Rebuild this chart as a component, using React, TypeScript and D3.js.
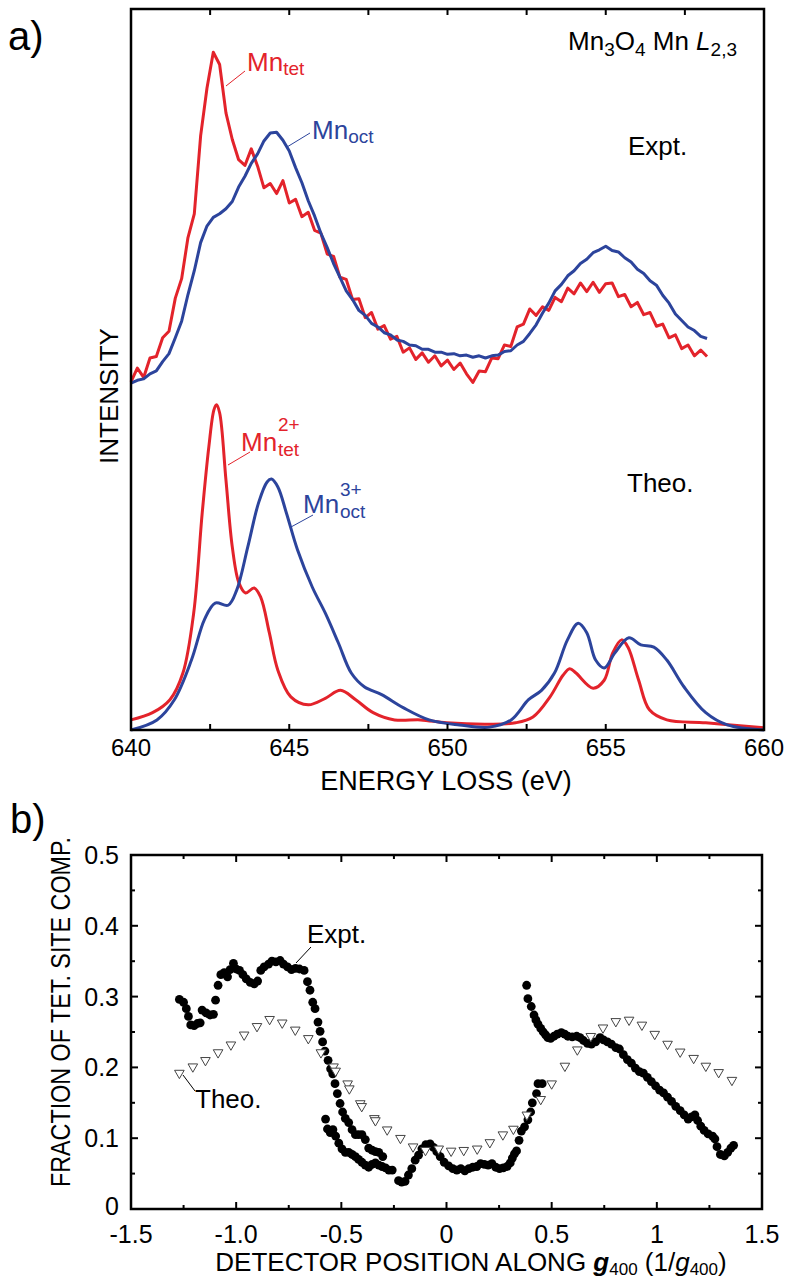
import React from "react";
import * as d3 from "d3";

// ---- panel a: Mn L2,3 spectra ----
// experimental spectra sampled every 0.2 eV from 640 eV
const exptEnergy = d3.range(92).map((i) => 640 + i * 0.2);
const exptTet = [
  48.3, 50.2, 48.9, 51.6, 51.8, 54.4, 55.3, 59.9, 62.6, 68.3,
  71.6, 82.4, 89.0, 94.0, 92.3, 85.6, 81.9, 79.1, 78.3, 80.6,
  78.2, 75.2, 75.8, 74.4, 76.2, 73.1, 73.6, 71.2, 71.8, 69.3,
  68.9, 66.0, 65.7, 62.8, 62.5, 59.7, 59.8, 57.2, 57.9, 55.6,
  56.1, 54.2, 54.6, 52.4, 53.0, 51.4, 52.3, 51.0, 51.9, 50.5,
  51.3, 50.0, 50.9, 49.4, 48.2, 49.8, 49.7, 51.6, 51.5, 53.4,
  53.2, 55.9, 56.3, 58.4, 57.5, 58.7, 58.2, 60.0, 59.4, 61.3,
  60.5, 62.0, 60.8, 62.1, 60.7, 61.9, 62.0, 60.1, 60.4, 58.7,
  59.3, 57.6, 57.9, 56.0, 56.3, 54.4, 54.8, 52.9, 53.4, 51.9,
  52.7, 51.8,
];
const exptOct = [
  48.1, 48.5, 48.7, 49.4, 49.8, 51.1, 52.2, 54.4, 56.7, 60.4,
  63.7, 67.6, 69.9, 71.1, 71.6, 72.3, 73.3, 75.3, 76.8, 78.6,
  79.9, 81.7, 82.8, 82.9, 81.8, 80.3, 78.0, 75.9, 73.4, 71.3,
  68.9, 66.9, 64.7, 62.8, 60.9, 59.7, 58.2, 57.5, 56.4, 55.9,
  55.1, 54.8, 54.1, 53.9, 53.4, 53.3, 52.8, 52.8, 52.4, 52.4,
  52.1, 52.2, 51.9, 52.0, 51.7, 51.9, 51.6, 51.9, 52.0, 52.5,
  52.6, 53.4, 53.9, 55.0, 56.2, 57.8, 59.2, 60.9, 61.8, 63.0,
  63.7, 64.7, 65.3, 66.2, 66.6, 67.1, 66.5, 66.3, 65.5, 64.9,
  63.9, 63.3, 62.3, 61.7, 60.3, 59.2, 57.7, 56.8, 55.9, 55.4,
  54.6, 54.3,
];

const theoTetE = [
  640, 640.68, 641.23, 641.64, 641.98, 642.25, 642.46, 642.62, 642.7, 642.8,
  643.0, 643.2, 643.41, 643.62, 643.89, 644.1, 644.37, 644.64, 645.05, 645.6,
  646.14, 646.62, 647.1, 647.65, 648.33, 649.15, 649.97, 651.33, 652.15, 652.7,
  653.24, 653.65, 653.86, 654.06, 654.6, 654.95, 655.22, 655.5, 655.7, 656.04,
  656.38, 656.93, 658.16, 660,
];
const theoTetI = [
  1.4, 2.4, 4.2, 7.9, 16.2, 30.1, 39.3, 44.4, 45.1, 44.0,
  34.7, 25.4, 20.4, 19.0, 19.7, 18.4, 13.5, 8.3, 4.6, 3.5,
  4.4, 5.5, 4.2, 2.4, 1.4, 1.4, 1.0, 0.8, 1.0, 1.8,
  4.6, 7.6, 8.5, 7.9, 5.8, 6.9, 10.7, 12.5, 11.5, 6.9,
  2.8, 1.4, 1.0, 0.3,
];
const theoOctE = [
  640, 640.82, 641.37, 641.91, 642.32, 642.66, 643.07, 643.34, 643.69, 644.03,
  644.3, 644.44, 644.64, 644.91, 645.26, 645.73, 646.14, 646.55, 646.96, 647.37,
  647.92, 648.6, 649.42, 650.38, 651.33, 652.01, 652.56, 652.97, 653.38, 653.79,
  654.13, 654.4, 654.68, 654.95, 655.29, 655.73, 656.11, 656.52, 656.93, 657.47,
  658.16, 658.84, 660,
];
const theoOctI = [
  0, 1.4, 4.2, 9.7, 15.3, 17.6, 17.3, 19.4, 25.4, 31.5,
  34.4, 34.8, 33.7, 30.1, 25.0, 19.8, 16.2, 12.1, 7.9, 6.0,
  4.9, 3.1, 1.4, 0.7, 0.4, 1.4, 4.2, 5.5, 7.9, 12.5,
  14.8, 13.5, 9.7, 8.6, 10.7, 12.8, 11.8, 11.5, 9.7, 6.0,
  2.4, 0.7, 0,
];

const energyTickLabels = [640, 645, 650, 655, 660];

// ---- panel b: fraction of tetrahedral site component ----
const theoPos = [
  -1.27, -1.206, -1.146, -1.086, -1.025, -0.962, -0.901, -0.841, -0.781, -0.719,
  -0.657, -0.597, -0.537, -0.527, -0.47, -0.462, -0.41, -0.403, -0.343, -0.338,
  -0.282, -0.219, -0.159, -0.1, -0.037, 0.022, 0.082, 0.146, 0.206, 0.268,
  0.318, 0.382, 0.448, 0.5, 0.563, 0.622, 0.686, 0.744, 0.805, 0.868,
  0.929, 0.99, 1.051, 1.111, 1.175, 1.233, 1.294, 1.357,
];
const theoFrac = [
  0.192, 0.201, 0.21, 0.221, 0.232, 0.246, 0.258, 0.268, 0.263, 0.253,
  0.241, 0.221, 0.201, 0.195, 0.177, 0.17, 0.149, 0.145, 0.128, 0.125,
  0.112, 0.1, 0.088, 0.083, 0.085, 0.082, 0.083, 0.085, 0.094, 0.105,
  0.113, 0.133, 0.155, 0.177, 0.202, 0.225, 0.244, 0.256, 0.265, 0.267,
  0.26, 0.247, 0.233, 0.222, 0.213, 0.202, 0.193, 0.182,
];

const exptPos = [
  -1.27, -1.25, -1.237, -1.227, -1.216, -1.2, -1.184, -1.171, -1.162, -1.143,
  -1.124, -1.108, -1.098, -1.086, -1.073, -1.057, -1.041, -1.029, -1.013, -1.0,
  -0.984, -0.968, -0.952, -0.933, -0.914, -0.898, -0.883, -0.867, -0.846, -0.83,
  -0.811, -0.791, -0.775, -0.756, -0.737, -0.718, -0.699, -0.677, -0.661, -0.649,
  -0.636, -0.625, -0.611, -0.601, -0.589, -0.578, -0.563, -0.551, -0.541, -0.53,
  -0.519, -0.506, -0.494, -0.481, -0.465, -0.449, -0.433, -0.418, -0.402, -0.386,
  -0.37, -0.354, -0.338, -0.322, -0.303,
  -0.575, -0.566, -0.553, -0.54, -0.527, -0.512, -0.497, -0.481, -0.465, -0.449,
  -0.433, -0.418, -0.402, -0.386, -0.37, -0.354, -0.338, -0.322, -0.306, -0.29,
  -0.274, -0.258,
  -0.228, -0.213, -0.197, -0.181, -0.165, -0.149, -0.133, -0.117, -0.098, -0.078,
  -0.062, -0.046, -0.03, -0.011, 0.01, 0.03, 0.049, 0.068, 0.087, 0.106,
  0.125, 0.144, 0.162, 0.18, 0.198, 0.216, 0.234, 0.252, 0.27, 0.288,
  0.303, 0.313, 0.323, 0.333, 0.345, 0.356, 0.371, 0.387, 0.4, 0.408,
  0.428, 0.435, 0.455,
  0.381, 0.387, 0.403, 0.416, 0.425, 0.435, 0.448, 0.46, 0.471, 0.482,
  0.495, 0.511, 0.527, 0.546, 0.562, 0.577, 0.598, 0.619, 0.635, 0.651,
  0.67, 0.689, 0.709, 0.73, 0.746, 0.765, 0.784, 0.805, 0.822, 0.841,
  0.86, 0.879, 0.898, 0.917, 0.936, 0.955, 0.974, 0.994, 1.013, 1.032,
  1.051, 1.07, 1.09, 1.111, 1.13, 1.149, 1.165, 1.181, 1.194, 1.209,
  1.225, 1.244, 1.265, 1.276, 1.286, 1.302, 1.321, 1.337, 1.352, 1.365,
];
const exptFrac = [
  0.296, 0.292, 0.283, 0.272, 0.26, 0.259, 0.262, 0.263, 0.281, 0.277,
  0.274, 0.275, 0.295, 0.316, 0.331, 0.334, 0.328, 0.338, 0.347, 0.339,
  0.337, 0.331, 0.325, 0.32, 0.318, 0.322, 0.337, 0.342, 0.346, 0.35,
  0.349, 0.351, 0.346, 0.342, 0.338, 0.34, 0.339, 0.337, 0.321, 0.309,
  0.292, 0.283, 0.264, 0.251, 0.236, 0.223, 0.21, 0.198, 0.191, 0.177,
  0.163, 0.149, 0.137, 0.128, 0.122, 0.112, 0.105, 0.105, 0.105, 0.098,
  0.086, 0.083, 0.081, 0.08, 0.074,
  0.127, 0.113, 0.108, 0.112, 0.103, 0.093, 0.085, 0.08, 0.08, 0.077,
  0.074, 0.07, 0.066, 0.062, 0.059, 0.063, 0.065, 0.062, 0.06, 0.058,
  0.055, 0.055,
  0.04, 0.038, 0.039, 0.048, 0.057, 0.069, 0.076, 0.085, 0.091, 0.092,
  0.087, 0.081, 0.074, 0.066, 0.061, 0.057, 0.055, 0.057, 0.054, 0.057,
  0.059, 0.06, 0.064, 0.063, 0.062, 0.064, 0.059, 0.057, 0.058, 0.06,
  0.065, 0.072, 0.078, 0.082, 0.097, 0.11, 0.116, 0.126, 0.137, 0.15,
  0.163, 0.177, 0.177,
  0.316, 0.297, 0.286, 0.274, 0.267, 0.261, 0.255, 0.25, 0.246, 0.242,
  0.241, 0.244, 0.247, 0.249, 0.247, 0.244, 0.243, 0.244, 0.242, 0.238,
  0.234, 0.233, 0.236, 0.242, 0.239, 0.236, 0.233, 0.228, 0.226, 0.218,
  0.211, 0.206, 0.199, 0.194, 0.192, 0.186, 0.18, 0.174, 0.168, 0.164,
  0.158, 0.152, 0.145, 0.139, 0.133, 0.127, 0.13, 0.133, 0.125, 0.117,
  0.111, 0.106, 0.103, 0.099, 0.088, 0.077, 0.075, 0.08, 0.086, 0.09,
];

const posTicks = [-1.5, -1, -0.5, 0, 0.5, 1, 1.5];
const posTickLabels = ["-1.5", "-1.0", "-0.5", "0", "0.5", "1", "1.5"];
const fracTicks = [0, 0.1, 0.2, 0.3, 0.4, 0.5];
const fracTickLabels = ["0", "0.1", "0.2", "0.3", "0.4", "0.5"];

const RED = "#e3232b";
const BLUE = "#2c449c";
const FONT = "'Liberation Sans', Arial, Helvetica, sans-serif";

function App() {
  // panel a scales
  const xa = d3.scaleLinear().domain([640, 660]).range([131, 764]);
  const ya = d3.scaleLinear().domain([0, 100]).range([730, 9]);
  // panel b scales
  const xb = d3.scaleLinear().domain([-1.5, 1.5]).range([131, 762]);
  const yb = d3.scaleLinear().domain([0, 0.5]).range([1209, 855]);

  const rough = d3
    .line<number>()
    .x((d, i) => xa(exptEnergy[i]))
    .y((d) => ya(d));
  const smooth = (es: number[]) =>
    d3
      .line<number>()
      .x((d, i) => xa(es[i]))
      .y((d) => ya(d))
      .curve(d3.curveCatmullRom.alpha(0.5));

  const aTicks = d3.range(640, 660.01, 2.5);
  const bxTicks = d3.range(-1.5, 1.501, 0.25);
  const byTicks = d3.range(0, 0.501, 0.05);
  const tri = d3.symbol().type(d3.symbolTriangle).size(40)();

  return (
    <svg
      width={785}
      height={1284}
      style={{ position: "absolute", left: 0, top: 0, background: "#fff" }}
      fontFamily={FONT}
    >
      {/* ===== panel a ===== */}
      <text x={8} y={50} fontSize={40}>a)</text>

      <path d={smooth(theoTetE)(theoTetI) || ""} fill="none" stroke={RED} strokeWidth={3} />
      <path d={smooth(theoOctE)(theoOctI) || ""} fill="none" stroke={BLUE} strokeWidth={3} />
      <path d={rough(exptTet) || ""} fill="none" stroke={RED} strokeWidth={3} strokeLinejoin="round" />
      <path d={rough(exptOct) || ""} fill="none" stroke={BLUE} strokeWidth={3} strokeLinejoin="round" />

      <rect x={131} y={9} width={764 - 131} height={730 - 9} fill="none" stroke="#000" strokeWidth={2.5} />
      {aTicks.map((t) => (
        <g key={"at" + t}>
          <line x1={xa(t)} x2={xa(t)} y1={730} y2={724} stroke="#000" strokeWidth={2} />
          <line x1={xa(t)} x2={xa(t)} y1={9} y2={15} stroke="#000" strokeWidth={2} />
        </g>
      ))}
      {energyTickLabels.map((t) => (
        <text key={"al" + t} x={xa(t)} y={756} fontSize={24} textAnchor="middle">{t}</text>
      ))}
      <text x={446} y={790} fontSize={27} textAnchor="middle">ENERGY LOSS (eV)</text>
      <text transform="translate(118,396) rotate(-90)" fontSize={26} textAnchor="middle">INTENSITY</text>

      <text x={737} y={50} fontSize={26} textAnchor="end">
        Mn<tspan fontSize={19} dy={6}>3</tspan>
        <tspan dy={-6}>O</tspan>
        <tspan fontSize={19} dy={6}>4</tspan>
        <tspan dy={-6}> Mn </tspan>
        <tspan fontStyle="italic">L</tspan>
        <tspan fontSize={19} dy={6}>2,3</tspan>
      </text>
      <text x={628} y={155} fontSize={26}>Expt.</text>
      <text x={627} y={492} fontSize={26}>Theo.</text>

      <line x1={226} y1={86} x2={245} y2={71} stroke={RED} strokeWidth={1} />
      <text x={247} y={71} fontSize={26} fill={RED}>
        Mn<tspan fontSize={19} dy={4}>tet</tspan>
      </text>
      <line x1={287} y1={147} x2={310} y2={133} stroke={BLUE} strokeWidth={1} />
      <text x={312} y={139} fontSize={26} fill={BLUE}>
        Mn<tspan fontSize={19} dy={4}>oct</tspan>
      </text>

      <line x1={228} y1={465} x2={250} y2={452} stroke={RED} strokeWidth={1} />
      <text x={241} y={451} fontSize={26} fill={RED}>Mn</text>
      <text x={278} y={431} fontSize={19} fill={RED}>2+</text>
      <text x={278} y={456} fontSize={19} fill={RED}>tet</text>

      <line x1={291} y1={527} x2={313} y2={515} stroke={BLUE} strokeWidth={1} />
      <text x={303} y={513} fontSize={26} fill={BLUE}>Mn</text>
      <text x={340} y={496} fontSize={19} fill={BLUE}>3+</text>
      <text x={340} y={518} fontSize={19} fill={BLUE}>oct</text>

      {/* ===== panel b ===== */}
      <text x={10} y={833} fontSize={40}>b)</text>

      {exptPos.map((p, i) => (
        <circle key={"e" + i} cx={xb(p)} cy={yb(exptFrac[i])} r={4.4} fill="#000" />
      ))}
      {theoPos.map((p, i) => (
        <path
          key={"t" + i}
          d={tri || ""}
          transform={`translate(${xb(p)},${yb(theoFrac[i])}) rotate(180)`}
          fill="#fff"
          stroke="#444"
          strokeWidth={1}
        />
      ))}

      <rect x={131} y={855} width={762 - 131} height={1209 - 855} fill="none" stroke="#000" strokeWidth={2.5} />
      {bxTicks.map((t, i) => {
        const len = i % 2 === 0 ? 7 : 4;
        return (
          <g key={"bx" + i}>
            <line x1={xb(t)} x2={xb(t)} y1={1209} y2={1209 - len} stroke="#000" strokeWidth={2} />
            <line x1={xb(t)} x2={xb(t)} y1={855} y2={855 + len} stroke="#000" strokeWidth={2} />
          </g>
        );
      })}
      {byTicks.map((t, i) => {
        const len = i % 2 === 0 ? 7 : 4;
        return (
          <g key={"by" + i}>
            <line x1={131} x2={131 + len} y1={yb(t)} y2={yb(t)} stroke="#000" strokeWidth={2} />
            <line x1={762} x2={762 - len} y1={yb(t)} y2={yb(t)} stroke="#000" strokeWidth={2} />
          </g>
        );
      })}
      {fracTicks.map((t, i) => (
        <text key={"fy" + i} x={119} y={yb(t) + (i === 0 ? 6 : 9)} fontSize={25} textAnchor="end">{fracTickLabels[i]}</text>
      ))}
      {posTicks.map((t, i) => (
        <text key={"px" + i} x={xb(t)} y={1243} fontSize={25} textAnchor="middle">{posTickLabels[i]}</text>
      ))}
      <text x={471} y={1271} fontSize={26} textAnchor="middle">
        DETECTOR POSITION ALONG{" "}
        <tspan fontWeight="bold" fontStyle="italic">g</tspan>
        <tspan fontSize={17} dy={4}>400</tspan>
        <tspan dy={-4}> (1/</tspan>
        <tspan fontStyle="italic">g</tspan>
        <tspan fontSize={17} dy={4}>400</tspan>
        <tspan dy={-4}>)</tspan>
      </text>
      <text
        transform="translate(70,1012) rotate(-90)"
        fontSize={27}
        textAnchor="middle"
        textLength={350}
        lengthAdjust="spacingAndGlyphs"
      >
        FRACTION OF  TET. SITE COMP.
      </text>

      <line x1={296} y1={963} x2={311} y2={947} stroke="#000" strokeWidth={1} />
      <text x={307} y={943} fontSize={26}>Expt.</text>
      <line x1={183} y1={1075} x2={195} y2={1091} stroke="#000" strokeWidth={1} />
      <text x={195} y={1108} fontSize={26}>Theo.</text>
    </svg>
  );
}

export default App;
